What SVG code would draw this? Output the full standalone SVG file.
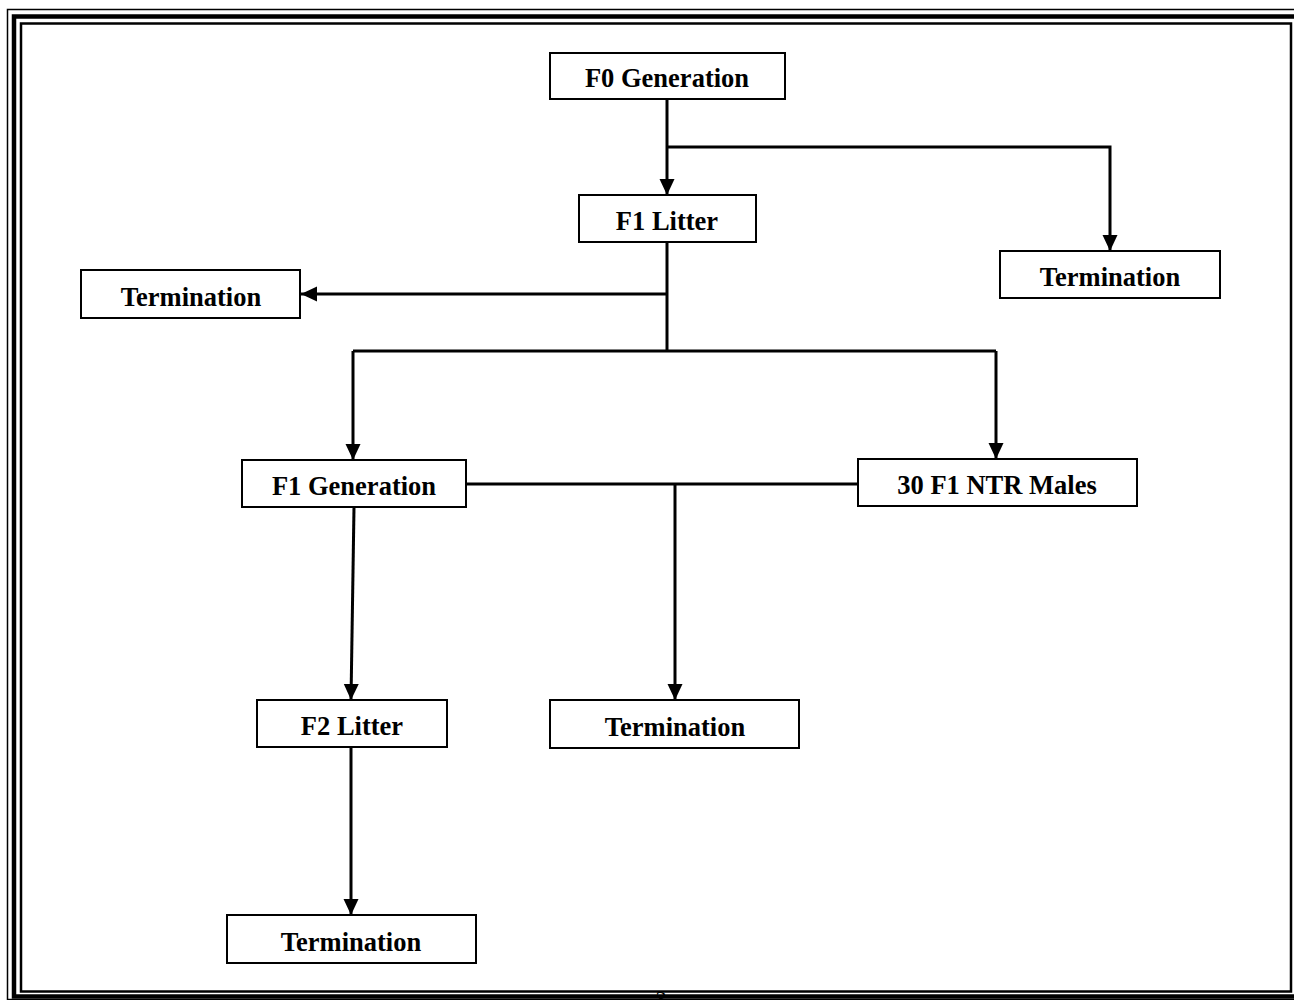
<svg xmlns="http://www.w3.org/2000/svg" width="1294" height="1000" viewBox="0 0 1294 1000">
<style>
.box{fill:#fff;stroke:#000;stroke-width:2}
.lbl{font-family:"Liberation Serif","Times New Roman",serif;font-weight:bold;font-size:26.5px;text-anchor:middle;fill:#000}
.ln{fill:none;stroke:#000;stroke-width:3}
</style>
<defs>
<marker id="ah" markerWidth="16" markerHeight="16" viewBox="0 0 16 16" refX="16" refY="8" orient="auto" markerUnits="userSpaceOnUse">
<path d="M0,0.5 L16,8 L0,15.5 Z" fill="#000"/>
</marker>
</defs>
<rect width="1294" height="1000" fill="#fff"/>
<g id="border" fill="none" stroke="#000">
<rect x="7.5" y="9.5" width="1300" height="990" stroke-width="1.5"/>
<rect x="14" y="16.5" width="1290" height="980" stroke-width="4.5"/>
<rect x="21" y="23.5" width="1270" height="968" stroke-width="2.5"/>
</g>
<g id="connectors">
<path class="ln" d="M667,99 V195" marker-end="url(#ah)"/>
<path class="ln" d="M667,147 H1110 V251" marker-end="url(#ah)"/>
<path class="ln" d="M667,242 V351"/>
<path class="ln" d="M667,294 H301" marker-end="url(#ah)"/>
<path class="ln" d="M353,351 H996"/>
<path class="ln" d="M353,351 V460" marker-end="url(#ah)"/>
<path class="ln" d="M996,351 V459" marker-end="url(#ah)"/>
<path class="ln" d="M466,484 H858"/>
<path class="ln" d="M675,484 V700" marker-end="url(#ah)"/>
<path class="ln" d="M354,507 L351,700" marker-end="url(#ah)"/>
<path class="ln" d="M351,747 V915" marker-end="url(#ah)"/>
</g>
<g id="n-f0"><rect class="box" x="550" y="53" width="235" height="46"/><text class="lbl" x="667" y="87">F0 Generation</text></g>
<g id="n-f1litter"><rect class="box" x="579" y="195" width="177" height="47"/><text class="lbl" x="667" y="230">F1 Litter</text></g>
<g id="n-term-right"><rect class="box" x="1000" y="251" width="220" height="47"/><text class="lbl" x="1110" y="286">Termination</text></g>
<g id="n-term-left"><rect class="box" x="81" y="270" width="219" height="48"/><text class="lbl" x="191" y="306">Termination</text></g>
<g id="n-f1gen"><rect class="box" x="242" y="460" width="224" height="47"/><text class="lbl" x="354" y="495">F1 Generation</text></g>
<g id="n-ntr"><rect class="box" x="858" y="459" width="279" height="47"/><text class="lbl" x="997" y="494">30 F1 NTR Males</text></g>
<g id="n-f2litter"><rect class="box" x="257" y="700" width="190" height="47"/><text class="lbl" x="352" y="735">F2 Litter</text></g>
<g id="n-term-mid"><rect class="box" x="550" y="700" width="249" height="48"/><text class="lbl" x="675" y="736">Termination</text></g>
<g id="n-term-bottom"><rect class="box" x="227" y="915" width="249" height="48"/><text class="lbl" x="351" y="951">Termination</text></g>
<text x="661" y="1006" font-family="Liberation Serif, serif" font-size="22" text-anchor="middle" fill="#000">3</text>
</svg>
